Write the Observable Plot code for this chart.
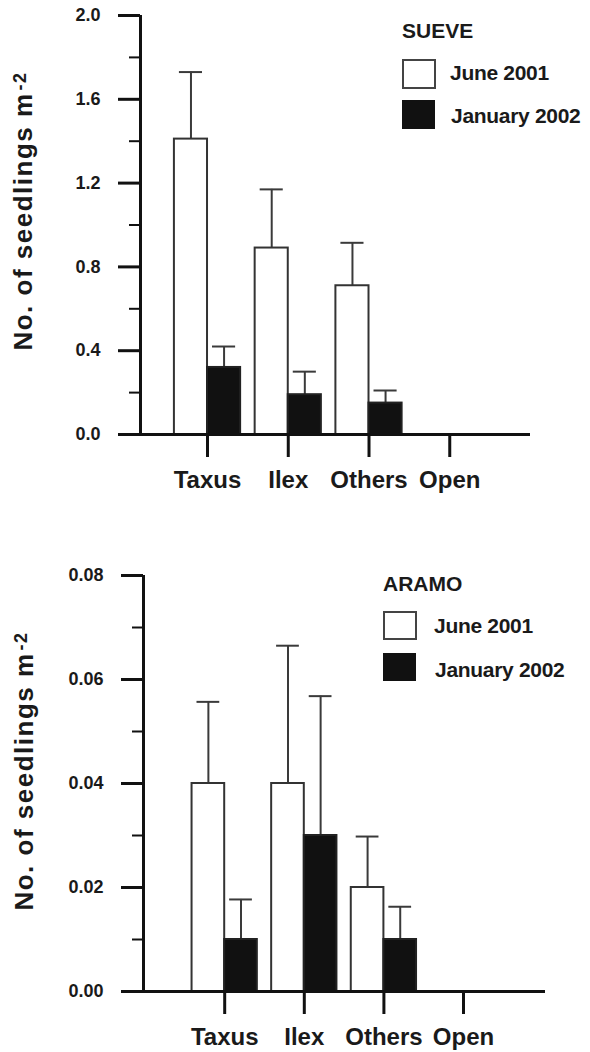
<!DOCTYPE html>
<html>
<head>
<meta charset="utf-8">
<script src="https://cdn.jsdelivr.net/npm/d3@7"></script>
<script src="https://cdn.jsdelivr.net/npm/@observablehq/plot@0.6"></script>
<style>
  html, body { margin: 0; padding: 0; background: #fff; }
  #chart { width: 590px; }
  #chart svg { display: block; }
</style>
</head>
<body>
<div id="chart"></div>
<script>
// ---- data ----
const categories = ["Taxus", "Ilex", "Others", "Open"];
const seriesNames = ["June 2001", "January 2002"];

const sueveJune = [1.41, 0.89, 0.71, 0];
const sueveJuneSE = [0.32, 0.28, 0.205, 0];
const sueveJan = [0.32, 0.19, 0.15, 0];
const sueveJanSE = [0.10, 0.11, 0.06, 0];

const aramoJune = [0.04, 0.04, 0.02, 0];
const aramoJuneSE = [0.0157, 0.0265, 0.0098, 0];
const aramoJan = [0.01, 0.03, 0.01, 0];
const aramoJanSE = [0.0077, 0.0268, 0.0063, 0];

const sueveMajorTicks = [0, 0.4, 0.8, 1.2, 1.6, 2.0];
const sueveMinorTicks = [0.2, 0.6, 1.0, 1.4, 1.8];
const aramoMajorTicks = [0, 0.02, 0.04, 0.06, 0.08];
const aramoMinorTicks = [0.01, 0.03, 0.05, 0.07];

const yTitleMain = "No. of seedlings m";
const yTitleSup = "-2";

const FONT = "'Liberation Sans', Arial, Helvetica, sans-serif";
const BAR_W = 0.41;     // bar width in category units
const CAP_HALF = 0.143; // error-bar cap half width in category units

function rows(june, juneSE, jan, janSE) {
  return categories.map((c, i) => ({
    cat: c, pos: i + 1,
    june: june[i], juneSE: juneSE[i],
    jan: jan[i], janSE: janSE[i]
  }));
}

function panel(cfg) {
  const data = rows(...cfg.values);
  const juneRows = data.filter(d => d.june > 0);
  const janRows = data.filter(d => d.jan > 0);
  const [x0, x1] = cfg.xDomain;
  const [y0, y1] = cfg.yDomain;

  const svg = Plot.plot({
    width: 590,
    height: cfg.height,
    marginTop: cfg.marginTop,
    marginBottom: cfg.marginBottom,
    marginLeft: cfg.marginLeft,
    marginRight: cfg.marginRight,
    x: {type: "linear", domain: cfg.xDomain},
    y: {domain: cfg.yDomain},
    style: {fontFamily: FONT, fontWeight: "bold", color: "#1a1a1a", background: "#fff", overflow: "visible"},
    marks: [
      Plot.ruleX(juneRows, {x: d => d.pos - BAR_W / 2, y1: "june", y2: d => d.june + d.juneSE, stroke: "#3a3a3a", strokeWidth: 2}),
      Plot.ruleY(juneRows, {y: d => d.june + d.juneSE, x1: d => d.pos - BAR_W / 2 - CAP_HALF, x2: d => d.pos - BAR_W / 2 + CAP_HALF, stroke: "#3a3a3a", strokeWidth: 2}),
      Plot.ruleX(janRows, {x: d => d.pos + BAR_W / 2, y1: "jan", y2: d => d.jan + d.janSE, stroke: "#3a3a3a", strokeWidth: 2}),
      Plot.ruleY(janRows, {y: d => d.jan + d.janSE, x1: d => d.pos + BAR_W / 2 - CAP_HALF, x2: d => d.pos + BAR_W / 2 + CAP_HALF, stroke: "#3a3a3a", strokeWidth: 2}),
      Plot.rect(juneRows, {x1: d => d.pos - BAR_W, x2: "pos", y1: 0, y2: "june", fill: "#fff", stroke: "#333", strokeWidth: 2}),
      Plot.rect(janRows, {x1: "pos", x2: d => d.pos + BAR_W, y1: 0, y2: "jan", fill: "#111", stroke: "#222", strokeWidth: 2}),
      Plot.ruleX([x0], {y1: y0, y2: y1, stroke: "#111", strokeWidth: 3}),
      Plot.ruleY([y0], {x1: x0, x2: x1, stroke: "#111", strokeWidth: 3}),
      Plot.axisY({ticks: cfg.majorTicks, tickSize: 22, tickPadding: 18, tickFormat: d => d.toFixed(cfg.decimals), fontSize: 18, strokeWidth: 3, stroke: "#111", label: null}),
      Plot.axisY({ticks: cfg.minorTicks, tickSize: 11, tickPadding: 0, tickFormat: () => "", strokeWidth: 2, stroke: "#111", label: null}),
      Plot.axisX({ticks: data.map(d => d.pos), tickFormat: p => categories[p - 1], tickSize: 23, tickPadding: 13, fontSize: 24, strokeWidth: 3, stroke: "#111", label: null}),
      Plot.text([yTitleMain], {text: d => d, frameAnchor: "left", rotate: -90, lineAnchor: "bottom", textAnchor: "middle", dx: cfg.titleDx, dy: cfg.titleDy, fontSize: 26, fontWeight: "bold", fill: "#1a1a1a"})
    ]
  });

  d3.select(svg).selectAll("text").filter(function() { return this.textContent === yTitleMain; })
    .style("letter-spacing", "1.5px")
    .append("tspan").attr("dy", -6).attr("dx", 2).attr("font-size", 18).text(yTitleSup);

  const L = cfg.legend;
  const g = d3.select(svg).append("g")
    .attr("font-family", FONT).attr("font-weight", "bold").attr("fill", "#1a1a1a")
    .attr("text-anchor", "start").attr("font-size", 21);
  g.append("text").attr("x", L.x).attr("y", L.titleY).text(cfg.name);
  g.append("rect").attr("x", L.x + 1).attr("y", L.sw1).attr("width", 32).attr("height", L.swH)
    .attr("fill", "#fff").attr("stroke", "#444").attr("stroke-width", 2);
  g.append("rect").attr("x", L.x).attr("y", L.sw2).attr("width", 33).attr("height", L.swH + 1)
    .attr("fill", "#111");
  g.append("text").attr("x", L.textX).attr("y", L.t1).attr("letter-spacing", "-0.3px").text(seriesNames[0]);
  g.append("text").attr("x", L.textX + 1).attr("y", L.t2).attr("letter-spacing", "-0.3px").text(seriesNames[1]);

  return svg;
}

const topPanel = panel({
  name: "SUEVE",
  values: [sueveJune, sueveJuneSE, sueveJan, sueveJanSE],
  height: 530, marginTop: 15, marginBottom: 96, marginLeft: 140, marginRight: 60,
  xDomain: [0.17, 5.0], yDomain: [0, 2],
  majorTicks: sueveMajorTicks, minorTicks: sueveMinorTicks, decimals: 1,
  titleDx: -109, titleDy: -14,
  legend: {x: 402, titleY: 38, sw1: 60, sw2: 100, swH: 28, textX: 450, t1: 80, t2: 123}
});

const bottomPanel = panel({
  name: "ARAMO",
  values: [aramoJune, aramoJuneSE, aramoJan, aramoJanSE],
  height: 522, marginTop: 45, marginBottom: 61, marginLeft: 143, marginRight: 45,
  xDomain: [-0.02, 5.03], yDomain: [0, 0.08],
  majorTicks: aramoMajorTicks, minorTicks: aramoMinorTicks, decimals: 2,
  titleDx: -111, titleDy: -12.5,
  legend: {x: 383, titleY: 61, sw1: 82, sw2: 123, swH: 27, textX: 434, t1: 103, t2: 147}
});

document.getElementById("chart").append(topPanel, bottomPanel);
</script>
</body>
</html>
